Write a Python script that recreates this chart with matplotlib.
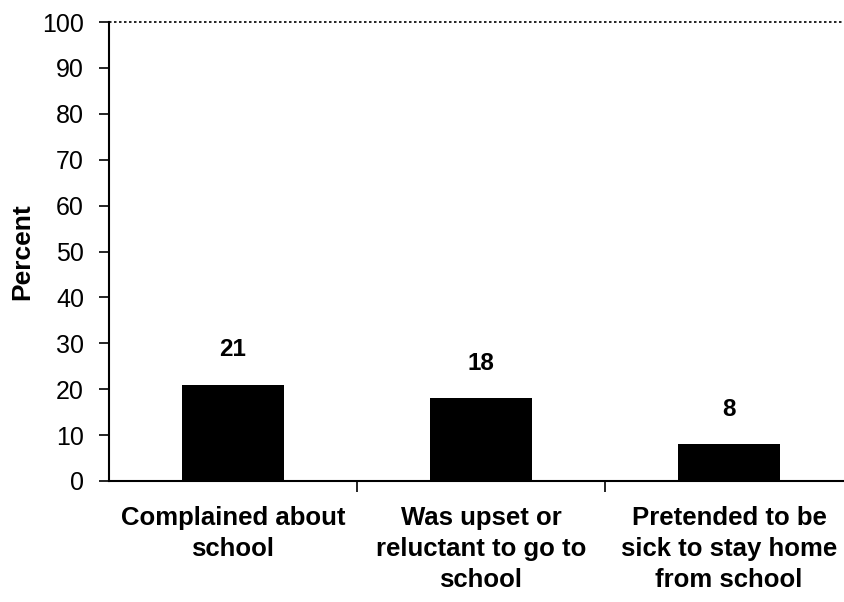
import numpy as np
import matplotlib.pyplot as plt

# Data
categories = ["Complained about\nschool",
              "Was upset or\nreluctant to go to\nschool",
              "Pretended to be\nsick to stay home\nfrom school"]
values = [21, 18, 8]
y_ticks = list(range(0, 101, 10))

plt.rcParams['font.family'] = ['Liberation Sans', 'DejaVu Sans']

fig = plt.figure(figsize=(8.44, 6.02), dpi=100)
# axes box in figure fractions (right edge runs past the image edge like the original)
ax = fig.add_axes([109 / 844, 1 - 481 / 602, 744 / 844, 459 / 602])

x = np.arange(len(categories))
ax.bar(x, values, width=0.41, color='black')

for xi, v in zip(x, values):
    ax.annotate(str(v), (xi, v), xytext=(0, 17), textcoords='offset points',
                ha='center', va='bottom', fontsize=17.5, fontweight='bold')

ax.set_xlim(-0.5, len(categories) - 0.5)
ax.set_ylim(0, 100)
ax.set_yticks(y_ticks)
ax.tick_params(axis='y', direction='out', length=7, width=1.2, labelsize=18, pad=11)

ax.set_xticks(x)
ax.set_xticklabels(categories, fontsize=18.5, fontweight='bold', linespacing=1.38)
ax.tick_params(axis='x', which='major', length=0, pad=18)
ax.set_xticks(np.arange(0.5, len(categories) - 0.5, 1), minor=True)
ax.tick_params(axis='x', which='minor', direction='out', length=8, width=1.2)

ax.spines['right'].set_visible(False)
ax.spines['top'].set_visible(False)
ax.spines['left'].set_linewidth(1.5)
ax.spines['bottom'].set_linewidth(1.5)
ax.axhline(100, color='black', linestyle=(0, (1.5, 1.5)), linewidth=1.2, clip_on=False)

ax.set_ylabel("Percent", fontsize=19, fontweight='bold', va='center')
ax.yaxis.set_label_coords(-0.117, 0.5)

fig.savefig("out.png", dpi=100)
